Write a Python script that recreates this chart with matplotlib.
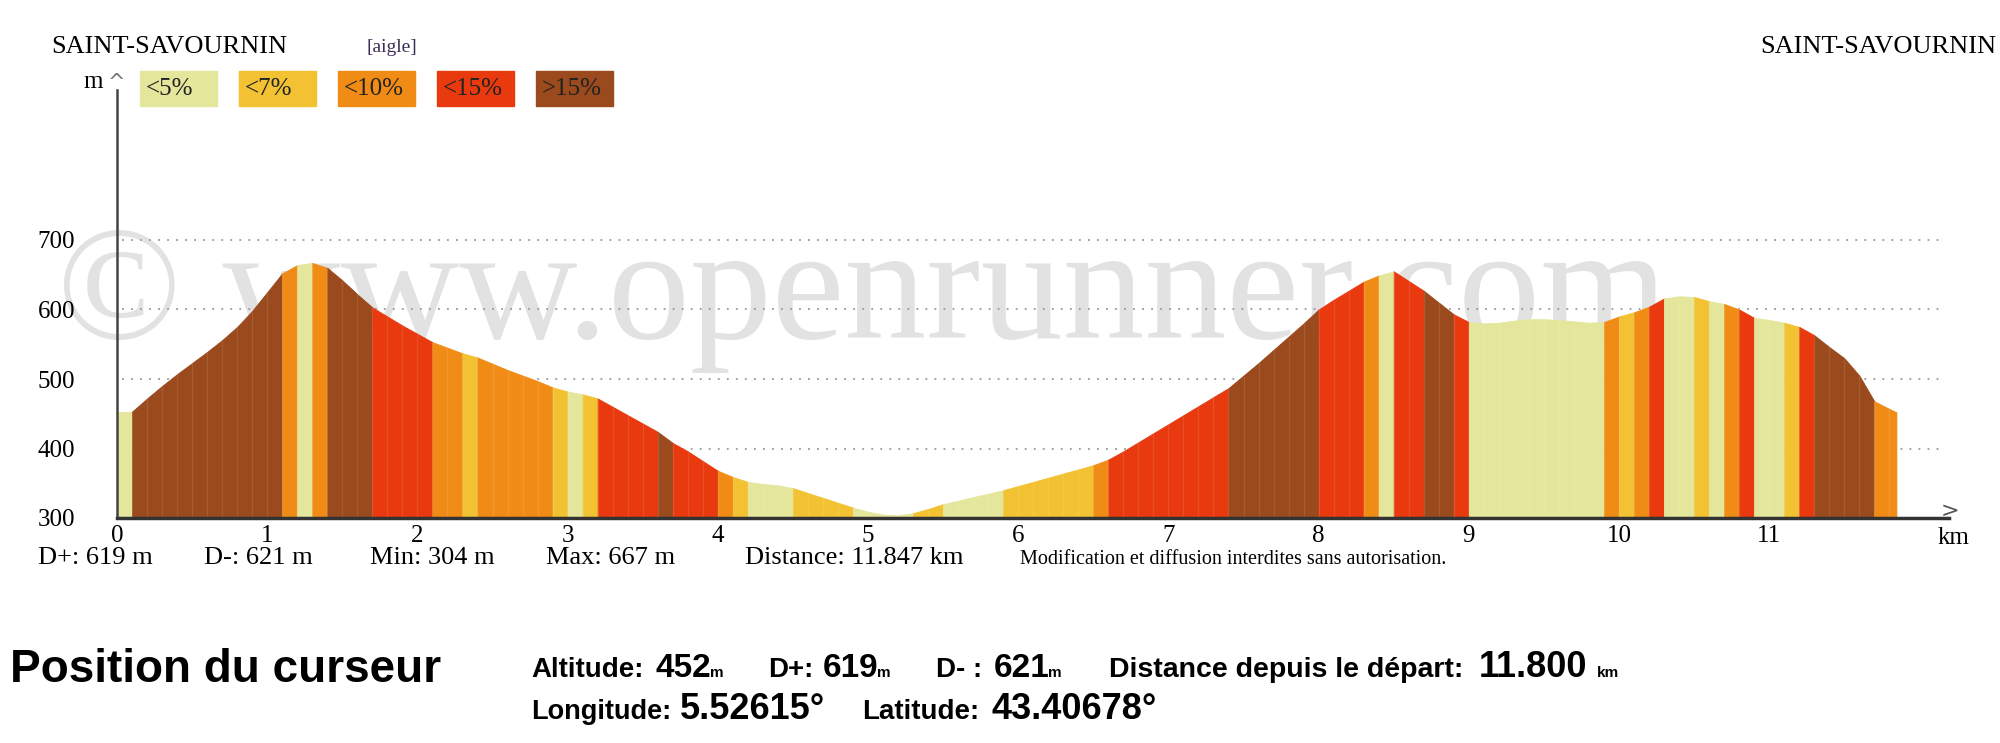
import numpy as np
import matplotlib
matplotlib.use("Agg")
import matplotlib.pyplot as plt

# altitude (m) tous les 100 m, puis le dernier point à 11.847 km
altitude = [
    452, 453, 472, 490, 507, 523, 539, 556, 575, 598,
    625, 652, 664, 667, 660, 642, 622, 603, 590, 577,
    565, 553, 545, 537, 531, 522, 513, 505, 497, 488,
    482, 478, 472, 460, 448, 436, 424, 408, 396, 382,
    368, 359, 352, 349, 347, 343, 336, 329, 322, 315,
    309, 305, 304, 307, 313, 320, 325, 330, 335, 340,
    346, 352, 358, 364, 370, 376, 384, 396, 409, 422,
    435, 448, 461, 474, 487, 505, 523, 542, 561, 580,
    600, 614, 627, 640, 649, 655, 641, 627, 610, 593,
    582, 580, 581, 584, 586, 586, 585, 583, 581, 582,
    590, 596, 604, 616, 619, 618, 612, 608, 600, 588,
    585, 581, 575, 563, 546, 530, 505, 468, 457, 452,
]
distance_totale = 11.847
pas_km = 0.1

# tronçons de pente : limites (km) et classe (0:<5% 1:<7% 2:<10% 3:<15% 4:>15%)
limites_km = [0, 0.1, 1.1, 1.2, 1.3, 1.4, 1.7, 2.1, 2.3, 2.4, 2.9, 3.0, 3.1,
              3.2, 3.6, 3.7, 4.0, 4.1, 4.2, 4.5, 4.9, 5.3, 5.5, 5.9, 6.5,
              6.6, 7.4, 8.0, 8.3, 8.4, 8.5, 8.7, 8.9, 9.0, 9.9, 10.0, 10.1,
              10.2, 10.3, 10.5, 10.6, 10.7, 10.8, 10.9, 11.1, 11.2, 11.3,
              11.7, 11.847]
classe_pente = [0, 4, 2, 0, 2, 4, 3, 2, 1, 2, 1, 0, 1, 3, 4, 3, 2, 1, 0, 1,
                0, 1, 0, 1, 2, 3, 4, 3, 2, 0, 3, 4, 3, 0, 2, 1, 2, 3, 0, 1,
                0, 2, 3, 0, 1, 3, 4, 2]

legende = ["<5%", "<7%", "<10%", "<15%", ">15%"]
couleurs = ["#e4e69b", "#f2c232", "#f08c16", "#e83a0e", "#9a4a1c"]

ticks_y = [300, 400, 500, 600, 700]
ticks_x = list(range(12))

stats = [("D+: 619 m", 38), ("D-: 621 m", 204), ("Min: 304 m", 370),
         ("Max: 667 m", 546), ("Distance: 11.847 km", 745)]

# ligne du curseur : (texte, x en px, taille)
ligne1 = [("Altitude:", 531, 20), ("452", 655, 24), ("m", 710, 11),
          ("D+:", 768, 20), ("619", 823, 24), ("m", 877, 11),
          ("D- :", 936, 20), ("621", 994, 24), ("m", 1048, 11),
          ("Distance depuis le départ:", 1109, 20.5), ("11.800", 1479, 26), ("km", 1597, 11)]
ligne2 = [("Longitude:", 531, 19.5), ("5.52615°", 680, 26),
          ("Latitude:", 862, 20), ("43.40678°", 992, 26)]

W, H = 2000, 743
SERIF = "Liberation Serif"
SANS = "Liberation Sans"


def px(x, y):
    return x / W, 1 - y / H


dist = np.append(np.round(np.arange(len(altitude) - 1) * pas_km, 1), distance_totale)
alt = np.array(altitude, dtype=float)

fig = plt.figure(figsize=(W / 100, H / 100), dpi=100)
fig.patch.set_facecolor("white")

# axe : 0 km à x=117 px, 150.2 px/km ; 300 m à y=518 px, 0.695 px/m
x0, y0, ytop, xright = 117, 518, 79, 1955
ax = fig.add_axes([x0 / W, 1 - y0 / H, (xright - x0) / W, (y0 - ytop) / H])
ax.set_xlim(0, (xright - x0) / 150.2)
ax.set_ylim(300, 300 + (y0 - ytop) / 0.695)
ax.set_facecolor("none")

# filigrane (derrière le profil)
ax.text(*px(57, 338), "© www.openrunner.com", fontsize=118, family=SERIF,
        color="#e2e2e2", ha="left", va="baseline", zorder=0,
        transform=fig.transFigure)

# lignes de grille pointillées
for v in ticks_y[1:]:
    ax.plot([0.03, 12.13], [v, v], ls=(0, (1, 4)), color="#999999", lw=1.3, zorder=1)

# profil coloré selon la pente
for i, c in enumerate(classe_pente):
    m = (dist >= limites_km[i] - 1e-6) & (dist <= limites_km[i + 1] + 1e-6)
    ax.fill_between(dist[m], alt[m], 300, color=couleurs[c], lw=0.6,
                    edgecolor=couleurs[c], zorder=2)
ax.vlines(dist[1:-1], 300, alt[1:-1], color="white", alpha=0.1, lw=1, zorder=3)

for s in ["top", "right"]:
    ax.spines[s].set_visible(False)
ax.spines["left"].set_bounds(300, 300 + (y0 - 90) / 0.695)
ax.spines["bottom"].set_bounds(0, 12.2)
ax.spines["left"].set_color("#444444")
ax.spines["bottom"].set_color("#333333")
ax.spines["left"].set_linewidth(1.8)
ax.spines["bottom"].set_linewidth(2.5)
ax.spines["left"].set_zorder(5)
ax.spines["bottom"].set_zorder(5)

ax.set_yticks(ticks_y)
ax.set_yticklabels([str(t) for t in ticks_y], family=SERIF, fontsize=18)
ax.set_xticks(ticks_x)
ax.set_xticklabels([str(t) for t in ticks_x], family=SERIF, fontsize=18)
ax.tick_params(axis="y", length=0, pad=30)
ax.tick_params(axis="x", length=0, pad=5)

# flèches et unités
fig.text(*px(117, 83), "^", fontsize=15, color="#777777", ha="center", va="center")
fig.text(*px(93, 82), "m", fontsize=18, family=SERIF, ha="center", va="center")
fig.text(*px(1950, 511), ">", fontsize=16, color="#555555", ha="center", va="center")
fig.text(*px(1954, 538), "km", fontsize=18, family=SERIF, ha="center", va="center")

# titres
fig.text(*px(51, 47), "SAINT-SAVOURNIN", fontsize=19, family=SERIF, va="center")
fig.text(*px(366, 47), "[aigle]", fontsize=14, family=SERIF, color="#3a2d55", va="center")
fig.text(*px(1996, 47), "SAINT-SAVOURNIN", fontsize=19, family=SERIF, va="center", ha="right")

# légende des pentes
for i, (lab, col) in enumerate(zip(legende, couleurs)):
    bx = 140 + i * 99
    fig.patches.append(plt.Rectangle(px(bx, 106), 77 / W, 35 / H, color=col,
                                     transform=fig.transFigure, figure=fig))
    fig.text(*px(bx + 6, 89), lab, fontsize=18, family=SERIF, color="#222222", va="center")

# statistiques
for txt, xx in stats:
    fig.text(*px(xx, 558), txt, fontsize=19, family=SERIF, va="center")
fig.text(*px(1020, 560), "Modification et diffusion interdites sans autorisation.",
         fontsize=14.5, family=SERIF, va="center")

# position du curseur
fig.text(*px(10, 670), "Position du curseur", fontsize=33, family=SANS,
         weight="bold", va="center")
for txt, xx, fs in ligne1:
    fig.text(*px(xx, 677), txt, fontsize=fs, family=SANS, weight="bold", va="baseline")
for txt, xx, fs in ligne2:
    fig.text(*px(xx, 719), txt, fontsize=fs, family=SANS, weight="bold", va="baseline")

fig.savefig("out.png", dpi=100)
